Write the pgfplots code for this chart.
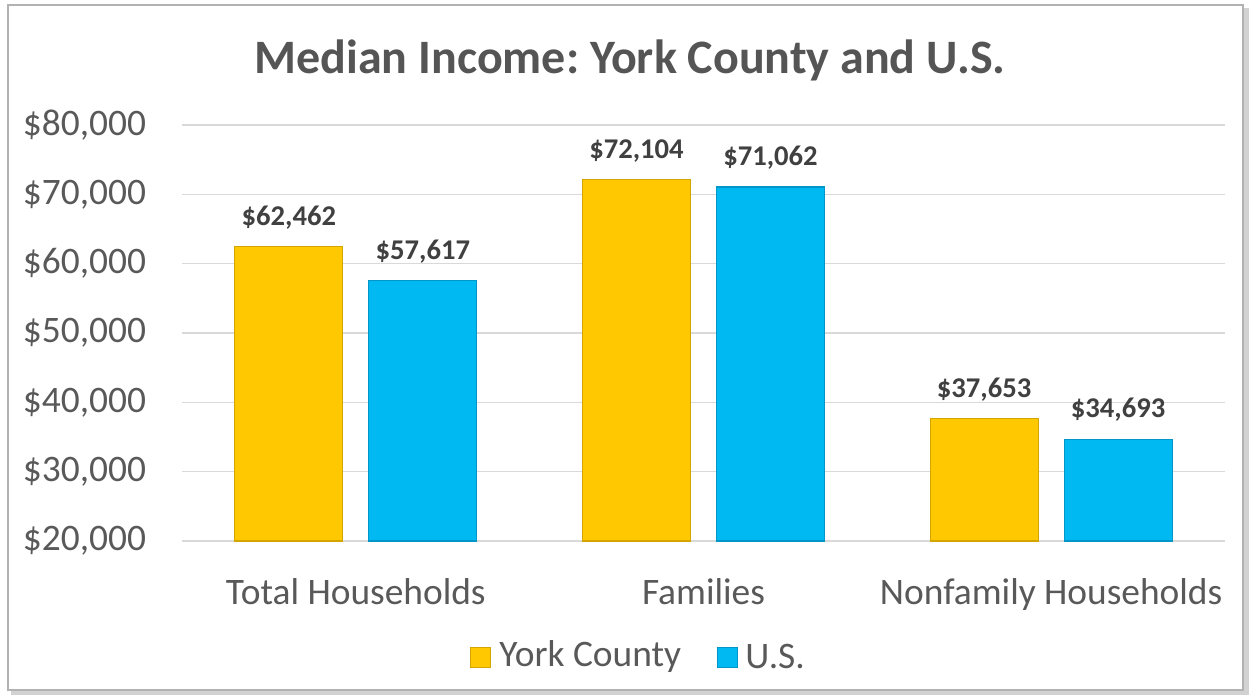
\documentclass[border=0pt]{standalone}
\usepackage{pgfplots}
\pgfplotsset{compat=1.18}
\usepackage{fontspec}
\setmainfont{Carlito}
\frenchspacing
\definecolor{txt}{HTML}{595959}
\definecolor{ttl}{HTML}{555555}
\definecolor{lbl}{HTML}{404040}
\definecolor{gridc}{HTML}{D9D9D9}
\definecolor{yel}{HTML}{FFC800}
\definecolor{yeld}{HTML}{D4A500}
\definecolor{blu}{HTML}{00B8F2}
\definecolor{blud}{HTML}{0096C8}
\begin{document}
\begin{tikzpicture}
\begin{scope}[x=0.5pt,y=0.5pt]
% canvas
\fill[white] (0,0) rectangle (1250,698);
% frame with shadow
\fill[gray!35] (11,3) rectangle (1249,690);
\fill[white] (8,8) rectangle (1243,693);
\draw[gray!60, line width=1.2pt] (8,8) rectangle (1243,693);
% title
\node[font=\fontsize{24pt}{28pt}\selectfont\bfseries, text=ttl] at (630,638) {Median Income: York County and U.S.};
% legend
\fill[yel] (470,31) rectangle (490,51); \draw[yeld, line width=0.5pt] (470,31) rectangle (490,51);
\node[anchor=west, font=\fontsize{18.7pt}{22pt}\selectfont, text=txt, inner sep=0pt] at (499,41) {York County};
\fill[blu] (717,31) rectangle (737,51); \draw[blud, line width=0.5pt] (717,31) rectangle (737,51);
\node[anchor=west, font=\fontsize{18.7pt}{22pt}\selectfont, text=txt, inner sep=0pt] at (745,41) {U.S.};
\end{scope}
\begin{axis}[
  at={(91pt,78.5pt)}, anchor=south west,
  scale only axis, width=521.5pt, height=208pt,
  xmin=-0.5, xmax=2.5, ymin=20000, ymax=80000,
  ybar=13pt, bar width=54pt,
  xtick={0,1,2},
  xticklabels={Total Households,Families,Nonfamily Households},
  ytick={20000,30000,40000,50000,60000,70000,80000},
  scaled y ticks=false,
  yticklabels={{\$20,000},{\$30,000},{\$40,000},{\$50,000},{\$60,000},{\$70,000},{\$80,000}},
  ymajorgrids, grid style={gridc, line width=0.75pt},
  axis line style={draw=none}, tick style={draw=none},
  ticklabel style={font=\fontsize{18.7pt}{22pt}\selectfont, text=txt},
  yticklabel style={xshift=-14.5pt},
  xticklabel style={yshift=-11pt},
  nodes near coords={\$\pgfmathprintnumber{\pgfplotspointmeta}},
  every node near coord/.append style={font=\fontsize{14.3pt}{17pt}\selectfont\bfseries, text=lbl, yshift=5pt},
  /pgf/number format/.cd, fixed, 1000 sep={,}, assume math mode=true,
]
\addplot[fill=yel, draw=yeld, line width=0.6pt] coordinates {(0,62462) (1,72104) (2,37653)};
\addplot[fill=blu, draw=blud, line width=0.6pt] coordinates {(0,57617) (1,71062) (2,34693)};
\end{axis}
\end{tikzpicture}
\end{document}
